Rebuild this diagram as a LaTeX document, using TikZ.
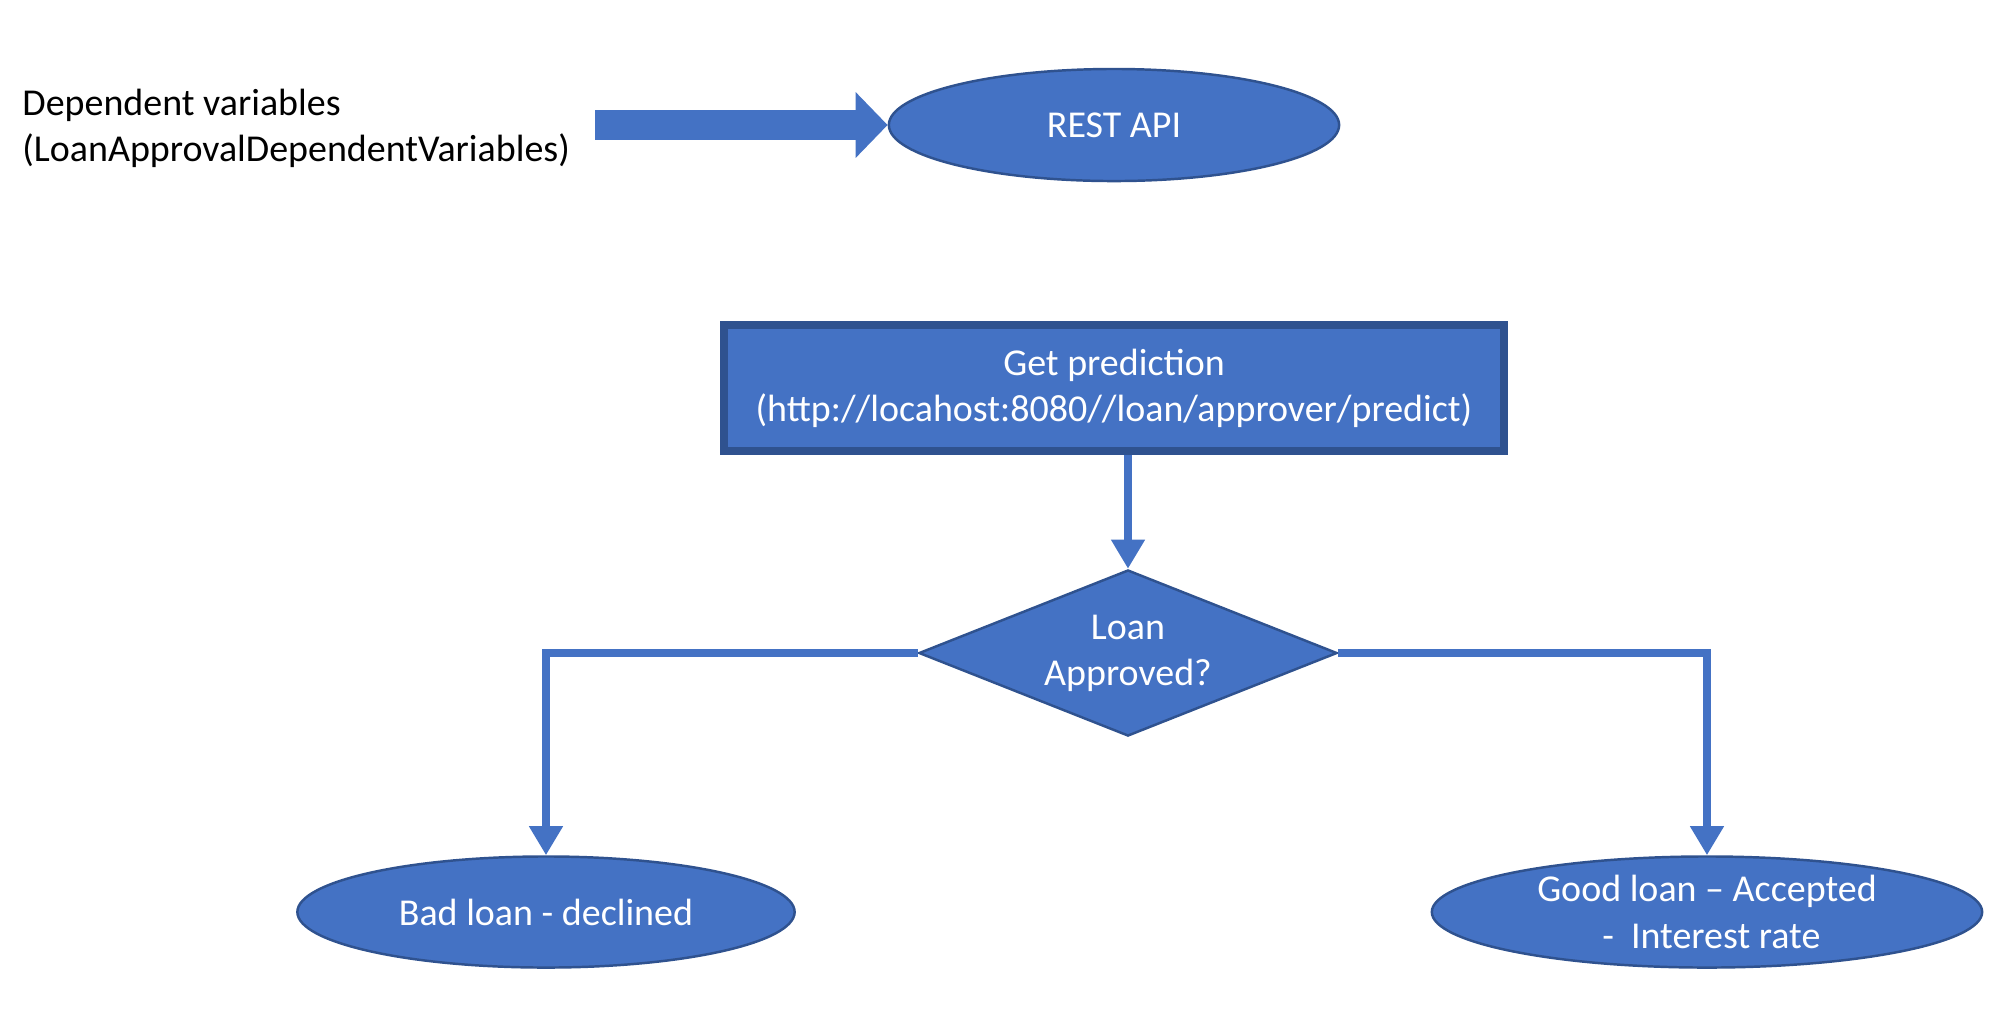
\documentclass[tikz,border=0pt]{standalone}
\usepackage{fontspec}
\setmainfont{Carlito}
\usetikzlibrary{arrows.meta,positioning,shapes.geometric}
\definecolor{boxblue}{RGB}{68,114,196}
\definecolor{edgeblue}{RGB}{47,82,143}

\begin{document}
\begin{tikzpicture}[x=0.01cm, y=-0.01cm,
  oval/.style={ellipse, draw=edgeblue, fill=boxblue, line width=0.7pt, inner sep=0pt, text=white, align=center, font=\fontsize{10.8}{13.4}\selectfont},
  call/.style={rectangle, draw=edgeblue, fill=boxblue, line width=2.4pt, inner sep=0pt, text=white, align=center, font=\fontsize{10.8}{13.1}\selectfont},
  check/.style={diamond, aspect=2.5, draw=edgeblue, fill=boxblue, line width=0.7pt, inner sep=0pt, text=white, align=center, font=\fontsize{10.8}{13.1}\selectfont},
  conn/.style={boxblue, line width=2.1pt, -{Triangle[length=0.29cm, width=0.32cm]}},
  bigarrow/.style={boxblue, line width=0.3cm, -{Triangle[length=0.32cm, width=0.64cm]}},
]
  \useasboundingbox (0,0) rectangle (1999,1035);

  \node[anchor=west, align=left, font=\fontsize{10.8}{13.1}\selectfont] (vars) at (10,128) {Dependent variables\\(LoanApprovalDependentVariables)};
  \node[oval, minimum width=4.5cm, minimum height=1.12cm] (api) at (1114,125) {REST API};
  \coordinate (arrowstart) at (595,125);

  \node[call, minimum width=7.8cm, minimum height=1.26cm] (pred) at (1114,388) {Get prediction\\(http://locahost:8080//loan/approver/predict)};
  \node[check, minimum width=4.18cm, minimum height=1.66cm] (dec) at (1128,653) {Loan\\Approved?};

  \node[oval, minimum width=4.97cm, minimum height=1.11cm] (bad) at (546,912) {Bad loan - declined};
  \node[oval, minimum width=5.5cm, minimum height=1.11cm] (good) at (1707,912) {Good loan -- Accepted\\\ -\ \ Interest rate};

  \draw[bigarrow] (arrowstart) -- (api.west);
  \draw[conn] (pred.south -| dec.north) -- (dec.north);
  \draw[conn] (dec.west) -| (bad.north);
  \draw[conn] (dec.east) -| (good.north);
\end{tikzpicture}
\end{document}
